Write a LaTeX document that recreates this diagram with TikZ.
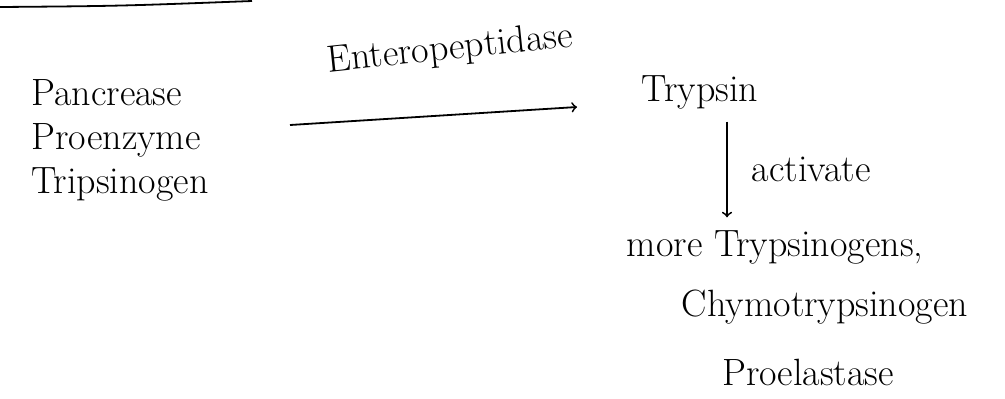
\documentclass[tikz,border=0pt]{standalone}
\usepackage{amsmath}
\usetikzlibrary{calc}

\begin{document}
\begin{tikzpicture}[x=0.5pt,y=-0.5pt,line width=0.9pt,
    hand/.style={inner sep=0pt,font=\fontsize{19}{22}\selectfont}]
                    \useasboundingbox (0,0) rectangle (1005,398);
                    \draw (0,7) .. controls (120,6) .. (252,1);
                    \node[hand,align=left] (pan) at (120,140) {Pancrease\\Proenzyme\\Tripsinogen};
                    \node[hand,rotate=6] (ent) at (450,50) {Enteropeptidase};
                    \node[hand] (tryp) at (700,92) {Trypsin};
                    \node[hand] (more) at (775,247) {more Trypsinogens,};
                    \node[hand] (chymo) at (825,307) {Chymotrypsinogen};
                    \node[hand] (proel) at (808,372) {Proelastase};
                    \coordinate (a1) at (290,125);
                    \coordinate (a2) at (577,107);
                    \draw[->] (a1) -- (a2);
                    \draw[->] ($(tryp.south)+(27,12)$) -- ($(more.north)+(-48,-12)$)
                        node[hand,midway,right=12pt] (act) {activate};
                \end{tikzpicture}
\end{document}
